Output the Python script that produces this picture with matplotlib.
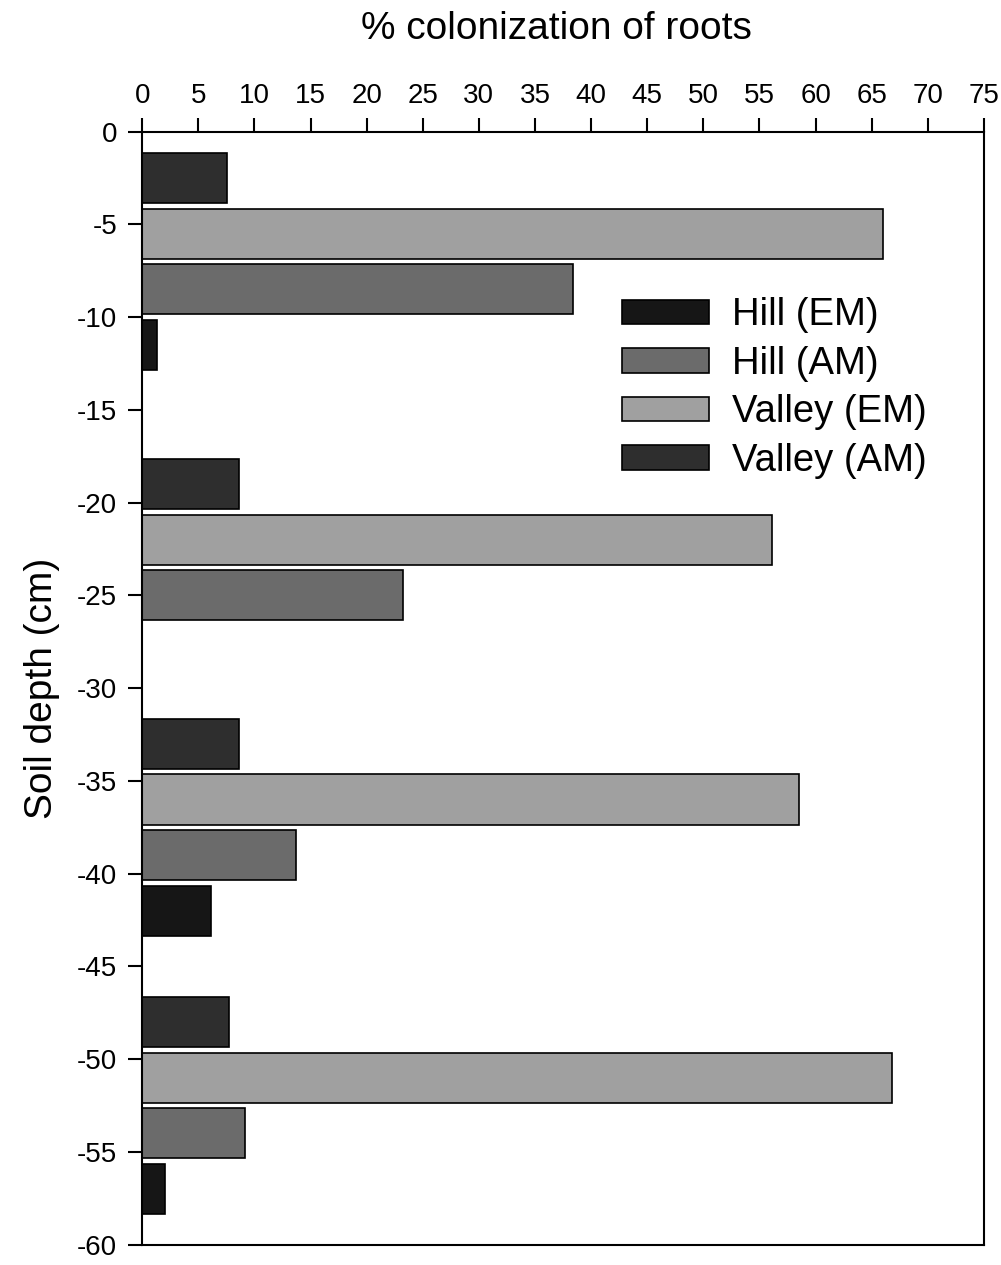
import matplotlib
matplotlib.use("Agg")
from matplotlib import pyplot as plt
import numpy as np

plt.rcParams['font.family'] = ['Liberation Sans', 'DejaVu Sans']
plt.rcParams['axes.unicode_minus'] = False

# profundidad (cm) de la primera barra de cada grupo
depths = [-2.5, -19.0, -33.0, -48.0]

# % de colonizacion por serie
hill_em = [1.3, 0.0, 6.1, 2.0]
hill_am = [38.4, 23.2, 13.7, 9.2]
valley_em = [66.0, 56.1, 58.5, 66.8]
valley_am = [7.6, 8.6, 8.6, 7.7]

series = [
    ('Hill (EM)', hill_em, '#161616'),
    ('Hill (AM)', hill_am, '#6b6b6b'),
    ('Valley (EM)', valley_em, '#a0a0a0'),
    ('Valley (AM)', valley_am, '#2e2e2e'),
]

paso = 3.0    # separacion entre barras de un grupo
alto = 2.7

fig = plt.figure(figsize=(10.01, 12.65), dpi=100)
ax = fig.add_axes([0.142, 0.016, 0.841, 0.880])

y0 = np.array(depths)
# las series se apilan de abajo hacia arriba (Hill EM abajo, Valley AM arriba)
for i, (nombre, vals, color) in enumerate(series):
    ax.barh(y0 - (3 - i) * paso, vals, height=alto, color=color,
            edgecolor='black', linewidth=1.2, label=nombre)

ax.set_xlim(0, 75)
ax.set_ylim(-60, 0)
ax.xaxis.tick_top()
ax.xaxis.set_label_position('top')
ax.set_xticks(np.arange(0, 76, 5))
ax.set_yticks(np.arange(0, -61, -5))
ax.tick_params(axis='both', labelsize=20, width=1.5, length=10, direction='out')
ax.tick_params(axis='x', pad=6)
ax.tick_params(axis='y', pad=8)
for s in ax.spines.values():
    s.set_linewidth(1.5)

ax.set_ylabel('Soil depth (cm)', fontsize=28, labelpad=12)
fig.text(0.556, 0.977, '% colonization of roots', fontsize=28,
         ha='center', va='center')

h, l = ax.get_legend_handles_labels()
ax.legend(h, l, loc='upper left', bbox_to_anchor=(0.621, 0.765),
          bbox_transform=fig.transFigure, frameon=False, fontsize=27.5,
          handlelength=2.3, handleheight=0.6, handletextpad=0.6,
          labelspacing=0.33, borderpad=0, borderaxespad=0)

plt.savefig('out.png', dpi=100)
